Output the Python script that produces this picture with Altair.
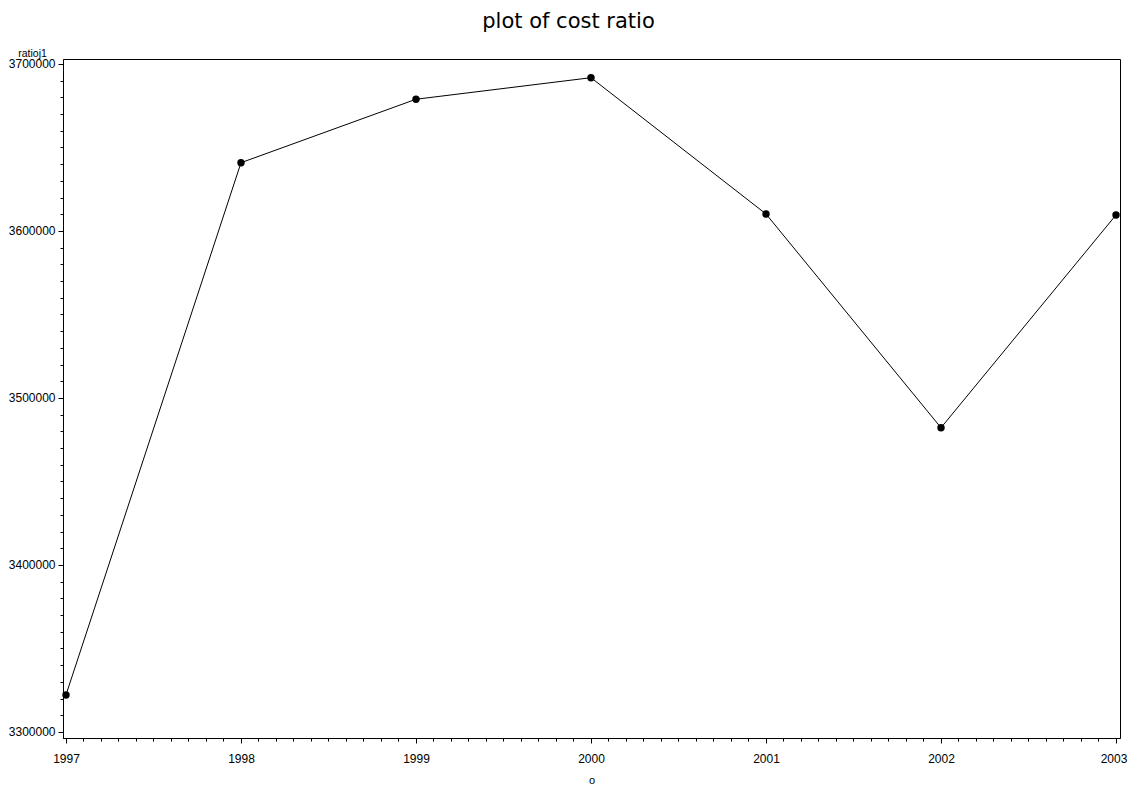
import altair as alt
import pandas as pd

# data
years = [1997, 1998, 1999, 2000, 2001, 2002, 2003]
ratioj1 = [3322200, 3640900, 3678900, 3691800, 3610200, 3482200, 3609600]

x_major = [1997, 1998, 1999, 2000, 2001, 2002, 2003]
y_major = [3300000, 3400000, 3500000, 3600000, 3700000]

x_minor = [round(1997 + i / 10, 1) for i in range(61) if i % 10 != 0]
y_minor = [3300000 + 10000 * i for i in range(41) if i % 10 != 0]

df = pd.DataFrame({"o": years, "ratioj1": ratioj1})

FONT = "Liberation Sans"
xscale = alt.Scale(domain=[1996.98286, 2003.02286], nice=False, zero=False)
yscale = alt.Scale(domain=[3296407, 3702994], nice=False, zero=False)

base = alt.Chart(df)

main = base.mark_line(
    color="black", strokeWidth=1,
    point=alt.OverlayMarkDef(filled=True, size=55, color="black", opacity=1),
).encode(
    x=alt.X("o:Q", scale=xscale,
            axis=alt.Axis(values=x_major, format="d", tickSize=5, labelPadding=10,
                          labelFontSize=12, labelFont=FONT, labelColor="black",
                          labelOffset={"condition": {"test": "datum.value >= 2003", "value": -2.5},
                                       "value": 0},
                          domainColor="black", tickColor="black", grid=False,
                          title="o", titleFont=FONT, titleFontSize=11,
                          titleFontWeight="normal", titleColor="black",
                          titleBaseline="alphabetic", titleY=45, orient="bottom",
                          labelFlush=False, labelOverlap=False)),
    y=alt.Y("ratioj1:Q", scale=yscale,
            axis=alt.Axis(values=y_major, format="d", tickSize=5, labelPadding=3,
                          labelFontSize=12, labelFont=FONT, labelColor="black",
                          domainColor="black", tickColor="black", grid=False,
                          title="ratioj1", titleFont=FONT, titleFontSize=10.5,
                          titleFontWeight="normal", titleColor="black",
                          titleAngle=0, titleAlign="center",
                          titleBaseline="alphabetic", titleX=-31, titleY=-3,
                          orient="left", labelFlush=False, labelOverlap=False)),
)

minor = base.mark_point(opacity=0).encode(
    x=alt.X("o:Q", scale=xscale,
            axis=alt.Axis(values=x_minor, labels=False, domain=False, tickSize=3,
                          tickColor="black", grid=False, title=None, orient="bottom")),
    y=alt.Y("ratioj1:Q", scale=yscale,
            axis=alt.Axis(values=y_minor, labels=False, domain=False, tickSize=3,
                          tickColor="black", grid=False, title=None, orient="left")),
)

chart = alt.layer(main, minor).resolve_axis(
    x="independent", y="independent"
).properties(
    width=1057,
    height=679,
    background="white",
    title=alt.TitleParams(
        "plot of cost ratio", font="DejaVu Sans", fontSize=21, fontWeight="normal",
        anchor="middle", frame="group", dx=-23, dy=20, baseline="alphabetic",
        offset=19, color="black",
    ),
    autosize=alt.AutoSizeParams(type="none"),
    padding={"left": 55, "top": 51, "right": 8, "bottom": 48},
).configure_view(
    stroke="black", strokeWidth=1
)

chart.save("out.html", embed_options={"renderer": "svg", "actions": False})
